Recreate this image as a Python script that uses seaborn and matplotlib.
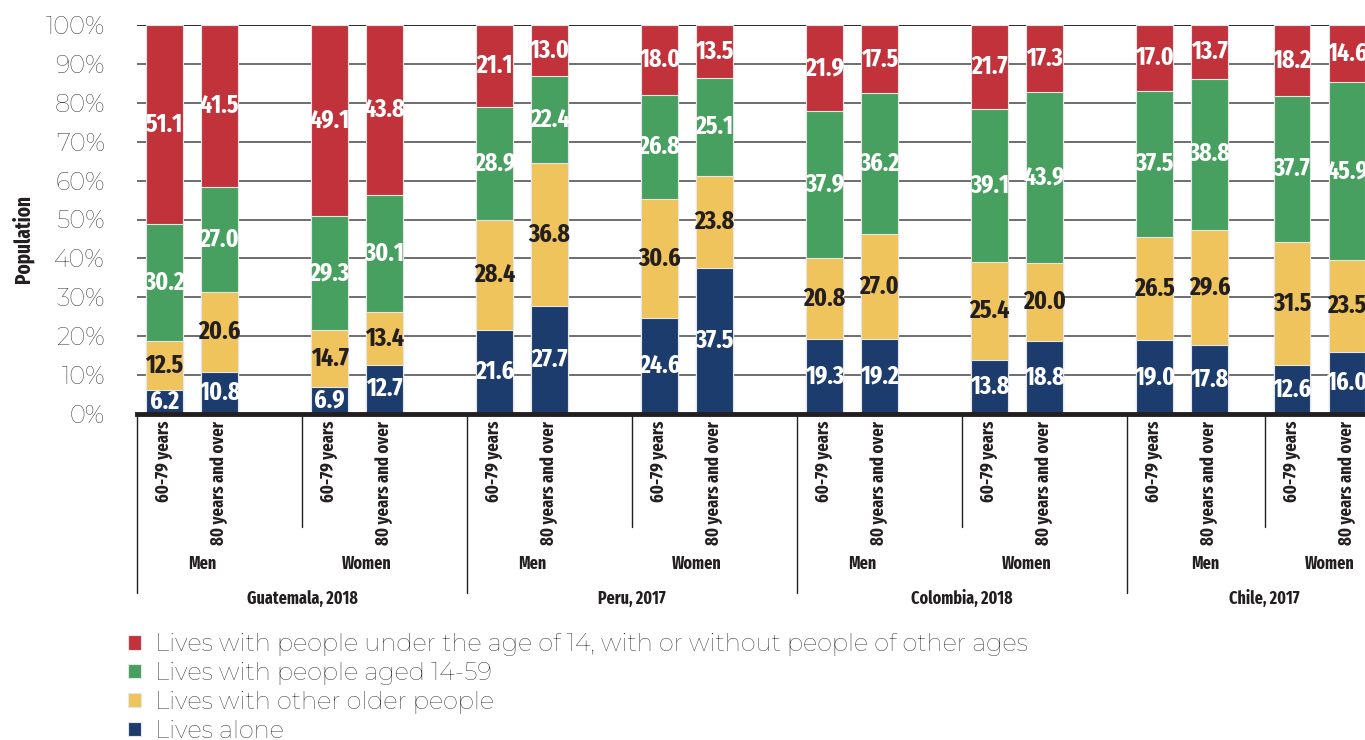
import matplotlib
matplotlib.use("Agg")
import matplotlib.pyplot as plt
import matplotlib.transforms as mtransforms
import seaborn as sns
import pandas as pd

# DATA
countries = ["Guatemala, 2018", "Peru, 2017", "Colombia, 2018", "Chile, 2017"]
sexes = ["Men", "Women"]
ages = ["60-79 years", "80 years and over"]

alone = [6.2, 10.8, 6.9, 12.7, 21.6, 27.7, 24.6, 37.5,
         19.3, 19.2, 13.8, 18.8, 19.0, 17.8, 12.6, 16.0]
older = [12.5, 20.6, 14.7, 13.4, 28.4, 36.8, 30.6, 23.8,
         20.8, 27.0, 25.4, 20.0, 26.5, 29.6, 31.5, 23.5]
aged_14_59 = [30.2, 27.0, 29.3, 30.1, 28.9, 22.4, 26.8, 25.1,
              37.9, 36.2, 39.1, 43.9, 37.5, 38.8, 37.7, 45.9]
under_14 = [51.1, 41.5, 49.1, 43.8, 21.1, 13.0, 18.0, 13.5,
            21.9, 17.5, 21.7, 17.3, 17.0, 13.7, 18.2, 14.6]

series_labels = [
    "Lives with people under the age of 14, with or without people of other ages",
    "Lives with people aged 14-59",
    "Lives with other older people",
    "Lives alone",
]
colors = ["#C1323B", "#48A060", "#EFC45C", "#1D3C6E"]
text_colors = ["white", "white", "#231F20", "white"]

# layout: slot shift per sex subgroup (the last one sits a bit closer)
sub_shift = [0, 0, 0, 0, 0, 0, 0, -0.5]
sex_label_shift = [0, 0, 0, 0, 0, 0, 0.25, 0]
country_label_shift = [0, 0, 0, -0.5]

# STYLE SETTINGS
sns.set_style("white")
plt.rcParams["font.family"] = ["Montserrat", "Lato", "DejaVu Sans"]
cond = ["Fira Sans Extra Condensed", "Roboto Condensed", "DejaVu Sans"]
dark = "#231F20"

# build table, one row per bar
rows = []
i = 0
for c in range(len(countries)):
    for s in range(len(sexes)):
        k = c * 2 + s
        for a in range(len(ages)):
            rows.append({
                "pos": k * 3 + a + sub_shift[k],
                "alone": alone[i],
                "older": older[i],
                "aged": aged_14_59[i],
                "under": under_14[i],
            })
            i += 1
df = pd.DataFrame(rows)
df["c1"] = df["alone"]
df["c2"] = df["c1"] + df["older"]
df["c3"] = df["c2"] + df["aged"]
df["c4"] = df["c3"] + df["under"]

fig = plt.figure(figsize=(13.65, 7.4), dpi=100)
ax = fig.add_axes([137 / 1365, 326 / 740, 1320 / 1365, 389 / 740])

# stacked bars drawn from the top down
for col, color, label in zip(["c4", "c3", "c2", "c1"], colors, series_labels):
    sns.barplot(
        data=df, x="pos", y=col, native_scale=True, orient="x",
        color=color, saturation=1, width=0.67, errorbar=None,
        edgecolor="#E6E6E6", linewidth=0.8, label=label, ax=ax, zorder=3
    )

# value labels
seg_cols = ["under", "aged", "older", "alone"]
top_cols = ["c4", "c3", "c2", "c1"]
for seg, top, tcol in zip(seg_cols, top_cols, text_colors):
    for _, r in df.iterrows():
        mid = r[top] - r[seg] / 2
        ax.text(r["pos"], mid, f"{r[seg]:.1f}", ha="center", va="center",
                color=tcol, fontsize=18.5, fontweight="bold", family=cond,
                zorder=5)

ax.set_xlim(-0.5, 23.5)
ax.set_ylim(0, 100)
ax.set_yticks(range(0, 101, 10))
ax.set_yticklabels([f"{v}%" for v in range(0, 101, 10)], fontsize=17.5,
                   color=dark, fontweight="medium")
ax.tick_params(axis="y", length=0, pad=23)
ax.set_xticks([])
ax.set_xlabel("")
ax.set_ylabel("Population", fontsize=15, fontweight="bold", family=cond,
              color=dark)
ax.yaxis.set_label_coords(-0.078, 0.45)

ax.grid(axis="y", color="#555555", linewidth=1.2, zorder=0)
ax.grid(axis="x", visible=False)
for side in ["top", "right", "left"]:
    ax.spines[side].set_visible(False)
ax.spines["bottom"].set_linewidth(3.5)
ax.spines["bottom"].set_color(dark)
ax.spines["bottom"].set_zorder(6)
ax.axhline(100, color=dark, linewidth=1.2, zorder=1)

# multi-level x labels
trans = mtransforms.blended_transform_factory(ax.transData, ax.transAxes)


def yfrac(py):
    return (414 - py) / 389


for c, country in enumerate(countries):
    for s, sex in enumerate(sexes):
        k = c * 2 + s
        base = k * 3 + sub_shift[k]
        for a, age in enumerate(ages):
            ax.text(base + a, yfrac(421), age, transform=trans, rotation=90,
                    ha="center", va="top", fontsize=13, fontweight="bold",
                    family=cond, color=dark, clip_on=False)
        ax.text(base + 0.68 + sex_label_shift[k], yfrac(564), sex,
                transform=trans, ha="center", va="center", fontsize=12.5,
                fontweight="bold", family=cond, color=dark, clip_on=False)
        if s == 1:
            ax.plot([base - 0.5, base - 0.5], [0, yfrac(527)],
                    transform=trans, color=dark, linewidth=1,
                    clip_on=False)
    ax.text(c * 6 + 2.5 + country_label_shift[c], yfrac(599), country,
            transform=trans, ha="center", va="center", fontsize=12.5,
            fontweight="bold", family=cond, color=dark, clip_on=False)
    ax.plot([c * 6 - 0.5, c * 6 - 0.5], [0, yfrac(593)], transform=trans,
            color=dark, linewidth=1, clip_on=False)

# legend
handles, labels = ax.get_legend_handles_labels()
if ax.legend_:
    ax.legend_.remove()
fig.legend(handles, labels, loc="upper left",
           bbox_to_anchor=(128 / 1365, 1 - 633 / 740), frameon=False,
           prop={"size": 17.5, "weight": "medium"},
           handlelength=0.53, handleheight=0.53,
           handletextpad=0.6, labelspacing=0.24, borderaxespad=0,
           borderpad=0, labelcolor=dark)

plt.savefig("out.png", dpi=100)
plt.close()
